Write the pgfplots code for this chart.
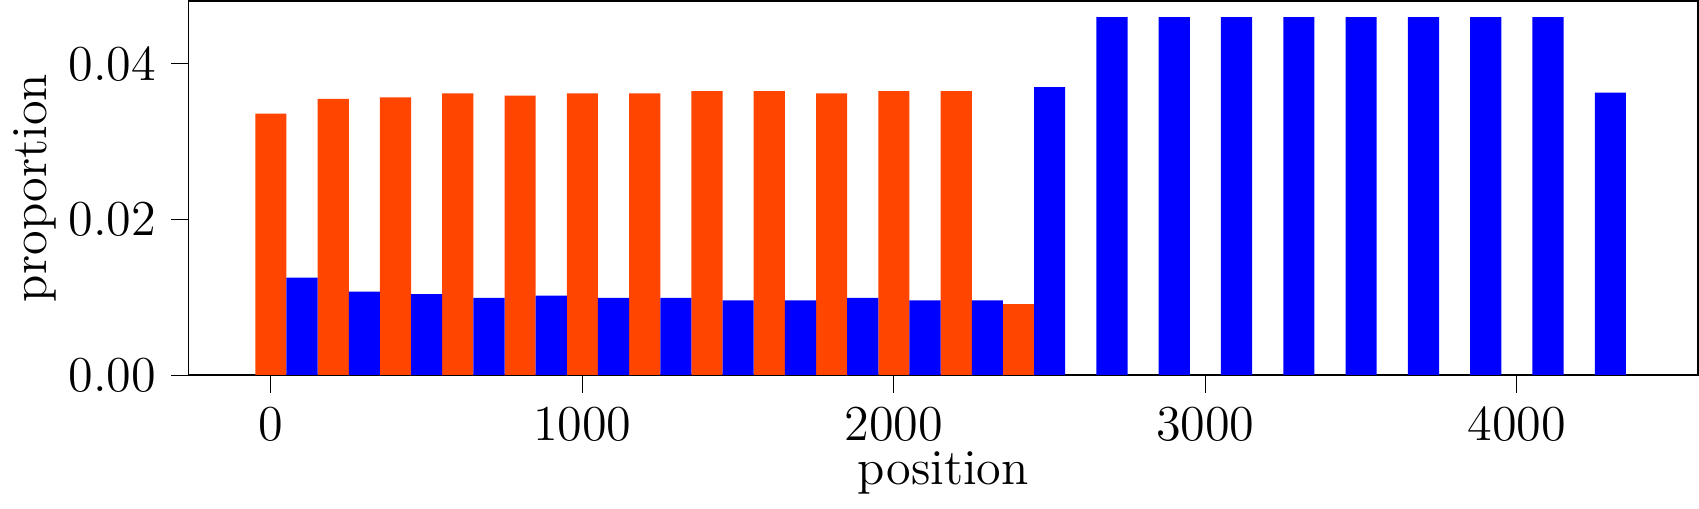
\documentclass[border=0pt]{standalone}
\usepackage{pgfplots}
\pgfplotsset{compat=1.18}
\definecolor{myorange}{RGB}{255,69,0}
\begin{document}
\begin{tikzpicture}
\begin{axis}[scale only axis, width=12.67cm, height=3.14cm,
 xmin=-264, xmax=4582, ymin=0, ymax=0.0481,
 xtick={0,1000,2000,3000,4000}, ytick={0,0.02,0.04},
 tick label style={font=\large},
 label style={font=\large},
 xticklabel style={/pgf/number format/set thousands separator={}},
 yticklabel style={/pgf/number format/fixed,/pgf/number format/precision=2,/pgf/number format/fixed zerofill},
 scaled y ticks=false,
 xlabel={position}, ylabel={proportion},
 xlabel style={yshift=4pt}, ylabel style={yshift=-4pt},
 tick align=outside, tick style={black}, xtick pos=bottom, ytick pos=left]
\addplot[ybar, bar width=100, fill=myorange, draw=none] coordinates {
(0,0.0336)(200,0.0355)(400,0.0357)(600,0.0362)(800,0.0359)(1000,0.0362)(1200,0.0362)(1400,0.0365)(1600,0.0365)(1800,0.0362)(2000,0.0365)(2200,0.0365)(2400,0.0091)};
\addplot[ybar, bar width=100, fill=blue, draw=none] coordinates {
(100,0.0125)(300,0.0107)(500,0.0104)(700,0.0099)(900,0.0102)(1100,0.0099)(1300,0.0099)(1500,0.0096)(1700,0.0096)(1900,0.0099)(2100,0.0096)(2300,0.0096)(2500,0.0370)(2700,0.046)(2900,0.046)(3100,0.046)(3300,0.046)(3500,0.046)(3700,0.046)(3900,0.046)(4100,0.046)(4300,0.0363)};
\end{axis}
\end{tikzpicture}
\end{document}
